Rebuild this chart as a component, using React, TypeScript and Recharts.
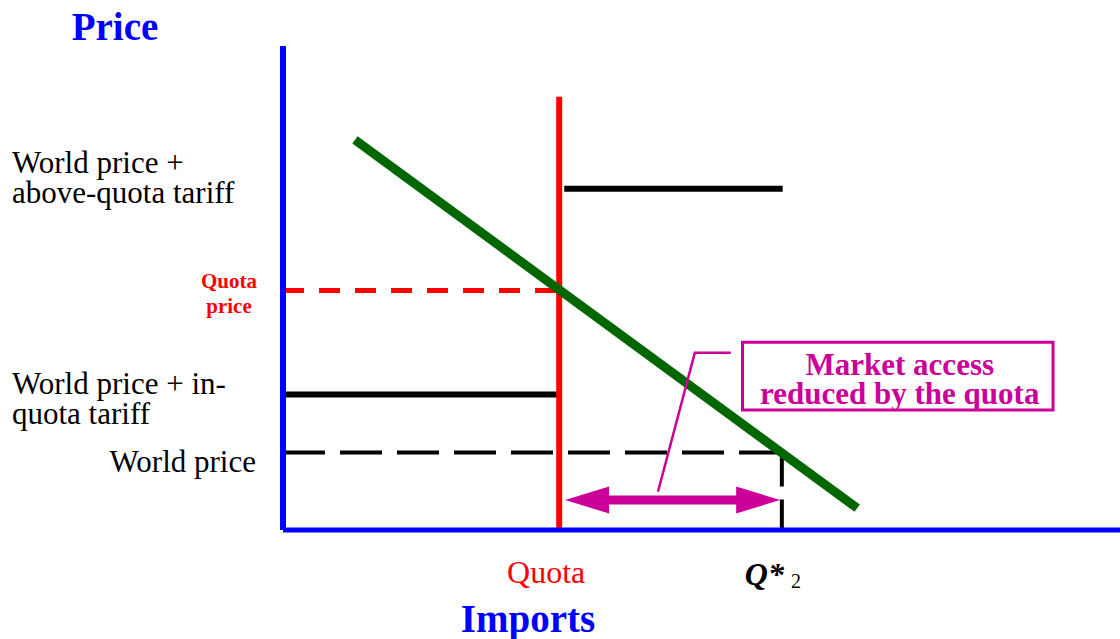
import React from 'react';
import { ComposedChart, Line, XAxis, YAxis, ReferenceLine, ReferenceArea } from 'recharts';

// quantities (imports) and prices, in chart units 0..100
const quotaQty = 33;
const qStarQty = 59.6;
const redTopPrice = 89.5;

const worldPrice = 16;
const inQuotaPrice = 28;
const quotaPrice = 49.5;
const aboveQuotaPrice = 70.5;
const aboveQuotaStart = 33.6;
const aboveQuotaEnd = 59.7;

const demandPoints = [
    { qty: 8.6, price: 80.6 },
    { qty: 68.6, price: 4.5 },
];

const leaderPoints = [
    { qty: 44.8, price: 7.9 },
    { qty: 49.2, price: 36.6 },
    { qty: 53.5, price: 36.6 },
];

const arrowPrice = 6.2;
const arrowFrom = 33.7;
const arrowTo = 59.4;

const boxQty = [54.9, 92];
const boxPrice = [24.8, 38.8];
const boxLines = ['Market access', 'reduced by the quota'];

const priceTicks = [worldPrice, inQuotaPrice, quotaPrice, aboveQuotaPrice];
const priceTickLabels = [
    ['World price'],
    ['World price + in-', 'quota tariff'],
    ['Quota', 'price'],
    ['World price +', 'above-quota tariff'],
];
const qtyTicks = [quotaQty, qStarQty];

const SERIF = "'Liberation Serif', 'Times New Roman', serif";
const BLUE = '#0000FF';
const RED = '#FF0000';
const GREEN = '#006600';
const MAGENTA = '#CC0099';

const PriceTick = (props: any) => {
    const { y, payload } = props;
    const idx = priceTicks.indexOf(payload.value);
    const lines = priceTickLabels[idx] || [];
    if (idx === 2) {
        return (
            <text x={229} textAnchor="middle" fill={RED} fontFamily={SERIF} fontWeight="bold" fontSize={21}>
                <tspan x={229} y={y - 2}>{lines[0]}</tspan>
                <tspan x={229} y={y + 23}>{lines[1]}</tspan>
            </text>
        );
    }
    if (idx === 0) {
        return (
            <text x={256} y={y + 19} textAnchor="end" fill="#000" fontFamily={SERIF} fontSize={31}>
                {lines[0]}
            </text>
        );
    }
    const first = idx === 3 ? y - 16 : y;
    return (
        <text x={12} textAnchor="start" fill="#000" fontFamily={SERIF} fontSize={31}>
            <tspan x={12} y={first}>{lines[0]}</tspan>
            <tspan x={12} y={first + 30}>{lines[1]}</tspan>
        </text>
    );
};

const QtyTick = (props: any) => {
    const { x, payload } = props;
    if (payload.value === quotaQty) {
        return (
            <text x={x - 13} y={583} textAnchor="middle" fill={RED} fontFamily={SERIF} fontSize={32}>
                Quota
            </text>
        );
    }
    return (
        <text x={x - 37} y={585} textAnchor="start" fill="#000" fontFamily={SERIF} fontSize={32}>
            <tspan fontWeight="bold" fontStyle="italic">Q*</tspan>
            <tspan fontSize={20} dx={7} dy={3}>2</tspan>
        </text>
    );
};

const AxisTitle = ({ text, tx, ty }: any) => (
    <text x={tx} y={ty} textAnchor="middle" fill={BLUE} fontFamily={SERIF} fontWeight="bold" fontSize={39}>
        {text}
    </text>
);

const BoxText = (props: any) => {
    const { viewBox } = props;
    const cx = viewBox.x + viewBox.width / 2 + 2;
    return (
        <text textAnchor="middle" fill={MAGENTA} fontFamily={SERIF} fontWeight="bold" fontSize={31}>
            <tspan x={cx} y={viewBox.y + 33}>{boxLines[0]}</tspan>
            <tspan x={cx} y={viewBox.y + 62}>{boxLines[1]}</tspan>
        </text>
    );
};

const DoubleArrow = (props: any) => {
    const { x1, y1, x2 } = props;
    const head = 44;
    const hh = 13.5;
    const sh = 4.5;
    const l = Math.min(x1, x2);
    const r = Math.max(x1, x2);
    const pts = [
        [l, y1],
        [l + head, y1 - hh],
        [l + head, y1 - sh],
        [r - head, y1 - sh],
        [r - head, y1 - hh],
        [r, y1],
        [r - head, y1 + hh],
        [r - head, y1 + sh],
        [l + head, y1 + sh],
        [l + head, y1 + hh],
    ];
    return <polygon points={pts.map((p) => p.join(',')).join(' ')} fill={MAGENTA} />;
};

const App = () => {
    return (
        <div style={{ position: 'absolute', left: 0, top: 0, background: '#fff' }}>
            <ComposedChart
                width={1120}
                height={639}
                data={demandPoints}
                margin={{ top: 46, right: 0, bottom: 0, left: 0 }}
            >
                <XAxis
                    type="number"
                    dataKey="qty"
                    domain={[0, 100]}
                    allowDataOverflow
                    ticks={qtyTicks}
                    interval={0}
                    tick={<QtyTick />}
                    tickLine={false}
                    height={109}
                    axisLine={{ stroke: BLUE, strokeWidth: 5 }}
                    label={<AxisTitle text="Imports" tx={528} ty={632} />}
                />
                <YAxis
                    type="number"
                    domain={[0, 100]}
                    allowDataOverflow
                    ticks={priceTicks}
                    interval={0}
                    tick={<PriceTick />}
                    tickLine={false}
                    width={283}
                    axisLine={{ stroke: BLUE, strokeWidth: 6 }}
                    label={<AxisTitle text="Price" tx={115} ty={40} />}
                />

                {/* world price and Q*2 guides */}
                <ReferenceLine
                    segment={[{ x: 0, y: worldPrice }, { x: qStarQty, y: worldPrice }]}
                    stroke="#000"
                    strokeWidth={4}
                    strokeDasharray="42 15"
                />
                <ReferenceLine
                    segment={[{ x: qStarQty, y: worldPrice }, { x: qStarQty, y: 0 }]}
                    stroke="#000"
                    strokeWidth={4}
                    strokeDasharray="34 13"
                />
                {/* in-quota tariff level */}
                <ReferenceLine
                    segment={[{ x: 0, y: inQuotaPrice }, { x: quotaQty, y: inQuotaPrice }]}
                    stroke="#000"
                    strokeWidth={6}
                />
                {/* above-quota tariff level */}
                <ReferenceLine
                    segment={[{ x: aboveQuotaStart, y: aboveQuotaPrice }, { x: aboveQuotaEnd, y: aboveQuotaPrice }]}
                    stroke="#000"
                    strokeWidth={6}
                />
                {/* quota price */}
                <ReferenceLine
                    segment={[{ x: 0, y: quotaPrice }, { x: quotaQty, y: quotaPrice }]}
                    stroke={RED}
                    strokeWidth={5}
                    strokeDasharray="21 15"
                />
                {/* quota */}
                <ReferenceLine
                    segment={[{ x: quotaQty, y: 0 }, { x: quotaQty, y: redTopPrice }]}
                    stroke={RED}
                    strokeWidth={6}
                />

                <Line
                    dataKey="price"
                    stroke={GREEN}
                    strokeWidth={9}
                    dot={false}
                    activeDot={false}
                    isAnimationActive={false}
                />

                <ReferenceLine
                    segment={[{ x: arrowFrom, y: arrowPrice }, { x: arrowTo, y: arrowPrice }]}
                    shape={(p: any) => <DoubleArrow {...p} />}
                />
                <Line
                    data={leaderPoints}
                    dataKey="price"
                    stroke={MAGENTA}
                    strokeWidth={2.5}
                    dot={false}
                    activeDot={false}
                    isAnimationActive={false}
                />
                <ReferenceArea
                    x1={boxQty[0]}
                    x2={boxQty[1]}
                    y1={boxPrice[0]}
                    y2={boxPrice[1]}
                    fill="#fff"
                    fillOpacity={1}
                    stroke={MAGENTA}
                    strokeWidth={3}
                    label={<BoxText />}
                />
            </ComposedChart>
        </div>
    );
};

export default App;
